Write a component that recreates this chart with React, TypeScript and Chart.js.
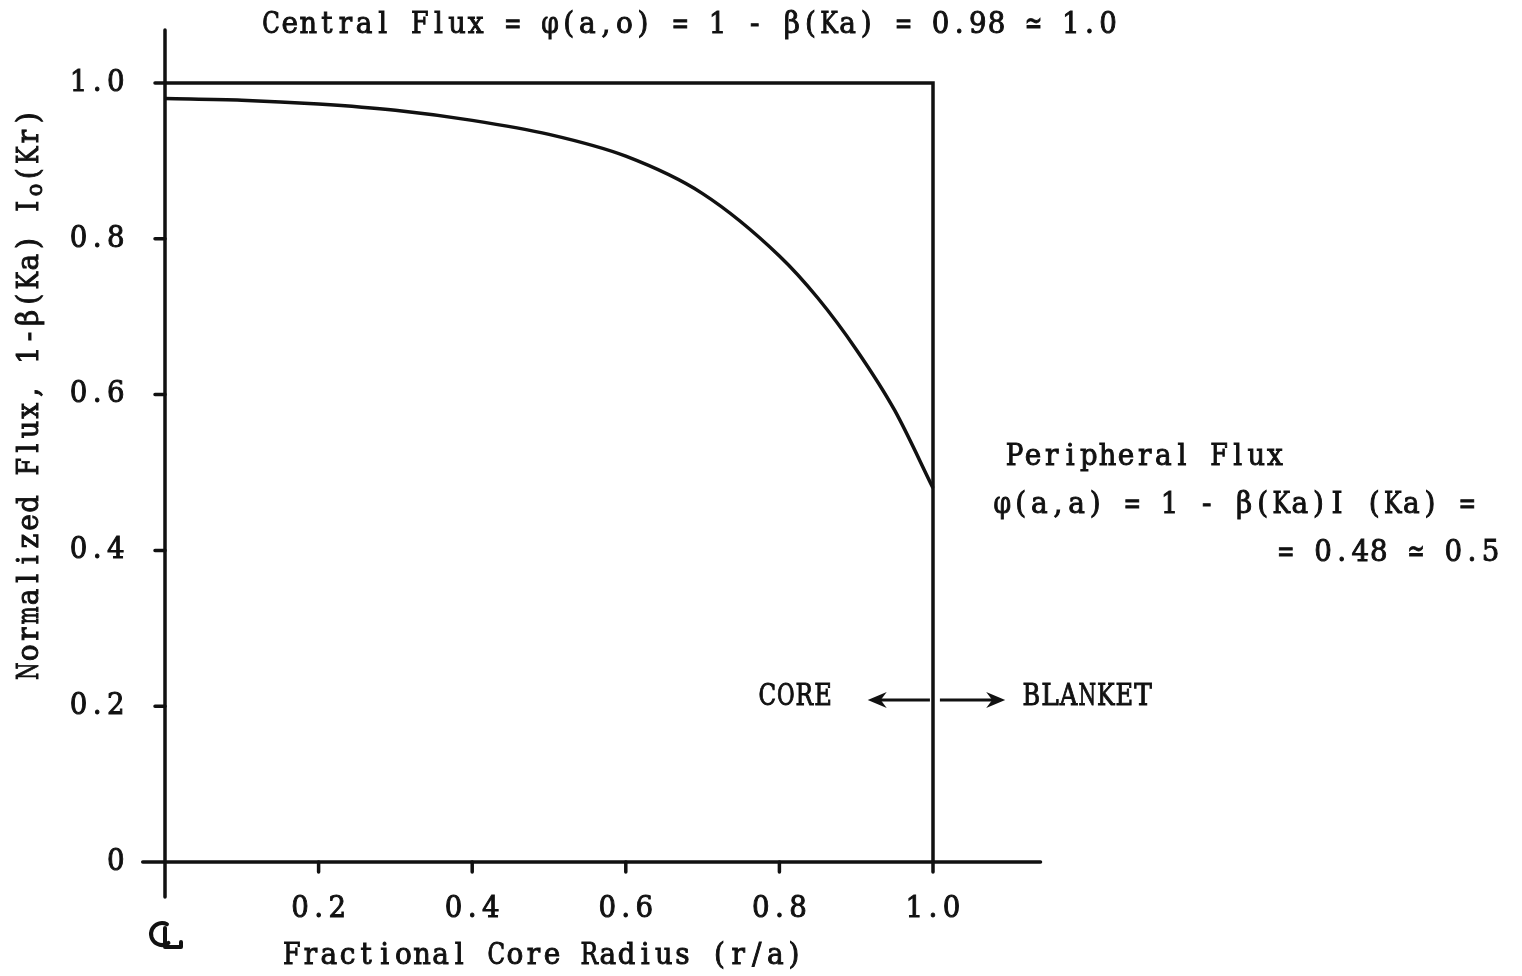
import { useEffect, useRef } from 'react';
import { Chart, registerables } from 'chart.js';

Chart.register(...registerables);

// Normalized flux profile across the core, 1 - β(Ka)·I0(Kr)
const radius = [0, 0.1, 0.2, 0.3, 0.4, 0.5, 0.6, 0.7, 0.8, 0.85, 0.9, 0.95, 1.0];
const flux = [0.98, 0.978, 0.973, 0.965, 0.952, 0.934, 0.906, 0.858, 0.778, 0.724, 0.658, 0.58, 0.48];

// Flat reference line at unit flux and the core boundary at r/a = 1
const boxX = [0, 1.0, 1.0];
const boxY = [1.0, 1.0, 0];

const xTicks = [0.2, 0.4, 0.6, 0.8, 1.0];
const xTickLabels = ['0.2', '0.4', '0.6', '0.8', '1.0'];
const yTicks = [0, 0.2, 0.4, 0.6, 0.8, 1.0];
const yTickLabels = ['0', '0.2', '0.4', '0.6', '0.8', '1.0'];

const FONT = '"DejaVu Serif", "Liberation Serif", serif';
const INK = '#111';
const CELL = 18.6; // fixed typewriter pitch
const SUB_CELL = 14;

type Run = { t: string; sub?: boolean };

// Draws text on a fixed character pitch so a serif face reads like typewriter type.
function drawRuns(
  ctx: CanvasRenderingContext2D,
  runs: Run[],
  x: number,
  y: number,
  align: 'left' | 'center' | 'right',
  rotate = 0,
) {
  const size = 28;
  const subSize = 21;
  let total = 0;
  runs.forEach((r) => (total += [...r.t].length * (r.sub ? SUB_CELL : CELL)));
  ctx.save();
  ctx.translate(x, y);
  if (rotate) ctx.rotate(rotate);
  ctx.scale(1, 1.08);
  ctx.textBaseline = 'middle';
  ctx.textAlign = 'center';
  ctx.fillStyle = INK;
  ctx.strokeStyle = INK;
  ctx.lineWidth = 0.9;
  let cx = align === 'left' ? 0 : align === 'center' ? -total / 2 : -total;
  runs.forEach((r) => {
    const cell = r.sub ? SUB_CELL : CELL;
    ctx.font = `${r.sub ? subSize : size}px ${FONT}`;
    const dy = r.sub ? 6 : 0;
    for (const ch of r.t) {
      if (ch !== ' ') {
        const w = ctx.measureText(ch).width;
        const sx = Math.min(1, (cell - 1) / w);
        ctx.save();
        ctx.translate(cx + cell / 2, dy);
        ctx.scale(sx, 1);
        ctx.fillText(ch, 0, 0);
        ctx.strokeText(ch, 0, 0);
        ctx.restore();
      }
      cx += cell;
    }
  });
  ctx.restore();
}

function arrow(ctx: CanvasRenderingContext2D, x1: number, x2: number, y: number) {
  const dir = Math.sign(x2 - x1);
  ctx.save();
  ctx.strokeStyle = INK;
  ctx.fillStyle = INK;
  ctx.lineWidth = 3;
  ctx.beginPath();
  ctx.moveTo(x1, y);
  ctx.lineTo(x2 - dir * 10, y);
  ctx.stroke();
  ctx.beginPath();
  ctx.moveTo(x2, y);
  ctx.lineTo(x2 - dir * 19, y - 8);
  ctx.lineTo(x2 - dir * 13, y);
  ctx.lineTo(x2 - dir * 19, y + 8);
  ctx.closePath();
  ctx.fill();
  ctx.restore();
}

// Hand-drawn centre-line mark: a C crossed by an L
function centreLine(ctx: CanvasRenderingContext2D, x: number, y: number) {
  ctx.save();
  ctx.strokeStyle = INK;
  ctx.lineWidth = 4;
  ctx.lineCap = 'round';
  ctx.lineJoin = 'round';
  ctx.beginPath();
  ctx.arc(x - 2, y - 2, 11, -0.35 * Math.PI, 0.3 * Math.PI, true);
  ctx.stroke();
  ctx.beginPath();
  ctx.moveTo(x + 1, y - 8);
  ctx.lineTo(x + 1, y + 11);
  ctx.lineTo(x + 17, y + 11);
  ctx.lineTo(x + 17, y + 6);
  ctx.stroke();
  ctx.restore();
}

const frame = {
  id: 'frame',
  afterDatasetsDraw(chart: Chart) {
    const ctx = chart.ctx;
    const xs = chart.scales.x;
    const ys = chart.scales.y;
    const px = (v: number) => xs.getPixelForValue(v);
    const py = (v: number) => ys.getPixelForValue(v);
    const x0 = px(0);
    const y0 = py(0);

    ctx.save();
    ctx.strokeStyle = INK;
    ctx.lineWidth = 3.5;
    ctx.lineCap = 'round';
    // axes, extended past the origin
    ctx.beginPath();
    ctx.moveTo(px(-0.029), y0);
    ctx.lineTo(px(1.14), y0);
    ctx.moveTo(x0, py(-0.045));
    ctx.lineTo(x0, py(1.068));
    ctx.stroke();
    // tick marks
    ctx.beginPath();
    xTicks.forEach((v) => {
      ctx.moveTo(px(v), y0);
      ctx.lineTo(px(v), y0 + 10);
    });
    yTicks.forEach((v) => {
      if (v === 0) return;
      ctx.moveTo(x0 - 10, py(v));
      ctx.lineTo(x0, py(v));
    });
    ctx.stroke();
    ctx.restore();

    xTicks.forEach((v, i) => drawRuns(ctx, [{ t: xTickLabels[i] }], px(v), y0 + 47, 'center'));
    yTicks.forEach((v, i) => drawRuns(ctx, [{ t: yTickLabels[i] }], x0 - 40, py(v), 'right'));

    // axis titles
    drawRuns(ctx, [{ t: 'Fractional Core Radius (r/a)' }], px(0.492), py(-0.121), 'center');
    drawRuns(
      ctx,
      [{ t: 'Normalized Flux, 1-β(Ka) I' }, { t: 'o', sub: true }, { t: '(Kr)' }],
      px(-0.176),
      py(0.6),
      'center',
      -Math.PI / 2,
    );

    centreLine(ctx, x0 - 1, py(-0.095));

    // annotations
    drawRuns(ctx, [{ t: 'Central Flux = φ(a,o) = 1 - β(Ka) = 0.98 ≃ 1.0' }], px(0.126), py(1.074), 'left');
    drawRuns(ctx, [{ t: 'Peripheral Flux' }], px(1.094), py(0.52), 'left');
    drawRuns(ctx, [{ t: 'φ(a,a) = 1 - β(Ka)I (Ka) =' }], px(1.078), py(0.458), 'left');
    drawRuns(ctx, [{ t: '= 0.48 ≃ 0.5' }], px(1.738), py(0.397), 'right');

    drawRuns(ctx, [{ t: 'CORE' }], px(0.772), py(0.212), 'left');
    drawRuns(ctx, [{ t: 'BLANKET' }], px(1.116), py(0.212), 'left');
    arrow(ctx, px(0.996), px(0.915), py(0.208));
    arrow(ctx, px(1.009), px(1.094), py(0.208));
  },
};

export default function App() {
  const ref = useRef<HTMLCanvasElement | null>(null);

  useEffect(() => {
    if (!ref.current) return;
    const chart = new Chart(ref.current, {
      type: 'line',
      data: {
        datasets: [
          {
            data: radius.map((r, i) => ({ x: r, y: flux[i] })),
            borderColor: INK,
            borderWidth: 3.5,
            pointRadius: 0,
            cubicInterpolationMode: 'monotone',
            clip: false as any,
          },
          {
            data: boxX.map((r, i) => ({ x: r, y: boxY[i] })),
            borderColor: INK,
            borderWidth: 3.5,
            pointRadius: 0,
            tension: 0,
            clip: false as any,
          },
        ],
      },
      options: {
        animation: false,
        responsive: false,
        maintainAspectRatio: false,
        layout: { padding: { left: 165, right: 589, top: 83, bottom: 114 } },
        plugins: { legend: { display: false }, tooltip: { enabled: false } },
        scales: {
          x: { type: 'linear', min: 0, max: 1, display: false },
          y: { type: 'linear', min: 0, max: 1, display: false },
        },
      },
      plugins: [frame],
    });
    return () => chart.destroy();
  }, []);

  return (
    <div style={{ position: 'fixed', left: 0, top: 0, width: 1522, height: 976, background: '#fff' }}>
      <canvas ref={ref} width={1522} height={976} style={{ display: 'block' }} />
    </div>
  );
}
